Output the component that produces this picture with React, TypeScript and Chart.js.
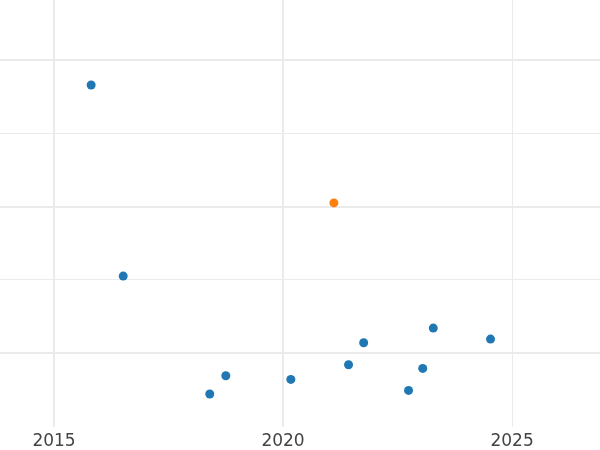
import React, { useEffect, useRef } from "react";
import { Chart, registerables } from "chart.js";

Chart.register(...registerables);

const blueX = [2015.81, 2016.51, 2018.4, 2018.75, 2020.17, 2021.43, 2021.76, 2022.74, 2023.05, 2023.28, 2024.53];
const blueY = [46.6, 20.5, 4.4, 6.9, 6.4, 8.4, 11.4, 4.9, 7.9, 13.4, 11.9];
const orangeX = [2021.11];
const orangeY = [30.5];
const xTicks = [2015, 2020, 2025];
const yTicks = [10, 20, 30, 40, 50];

export default function App() {
  const ref = useRef<HTMLCanvasElement>(null);
  useEffect(() => {
    document.body.style.margin = "0";
    const ctx = ref.current!;
    const chart = new Chart(ctx, {
      type: "scatter",
      data: {
        datasets: [
          {
            data: blueX.map((x, i) => ({ x, y: blueY[i] })),
            backgroundColor: "#1f77b4",
            borderColor: "#1f77b4",
            pointRadius: 4.5,
            borderWidth: 0,
          },
          {
            data: orangeX.map((x, i) => ({ x, y: orangeY[i] })),
            backgroundColor: "#ff7f0e",
            borderColor: "#ff7f0e",
            pointRadius: 4.5,
            borderWidth: 0,
          },
        ],
      },
      options: {
        animation: false,
        responsive: false,
        layout: { padding: 0, autoPadding: false },
        plugins: { legend: { display: false }, tooltip: { enabled: false } },
        scales: {
          x: {
            type: "linear",
            min: 2013.82,
            max: 2026.92,
            afterBuildTicks: (s: any) => {
              s.ticks = xTicks.map((v) => ({ value: v }));
            },
            afterFit: (s: any) => {
              s.height = 23;
            },
            border: { display: false },
            grid: {
              color: "#ebebeb",
              lineWidth: (c: any) => (c.tick && c.tick.value === 2025 ? 1 : 2),
              drawTicks: false,
            },
            ticks: {
              color: "#444",
              font: { family: "DejaVu Sans", size: 17 },
              padding: 4,
              maxRotation: 0,
              callback: (v: any) => String(v),
            },
          },
          y: {
            type: "linear",
            min: -0.1,
            max: 58.2,
            afterBuildTicks: (s: any) => {
              s.ticks = yTicks.map((v) => ({ value: v }));
            },
            afterFit: (s: any) => {
              s.width = 0;
            },
            border: { display: false },
            grid: {
              color: "#ebebeb",
              lineWidth: (c: any) => (c.tick && (c.tick.value === 20 || c.tick.value === 40) ? 1 : 2),
              drawTicks: false,
            },
            ticks: { display: false },
          },
        },
      },
    });
    return () => chart.destroy();
  }, []);
  return <canvas ref={ref} width={600} height={450} style={{ display: "block" }} />;
}
